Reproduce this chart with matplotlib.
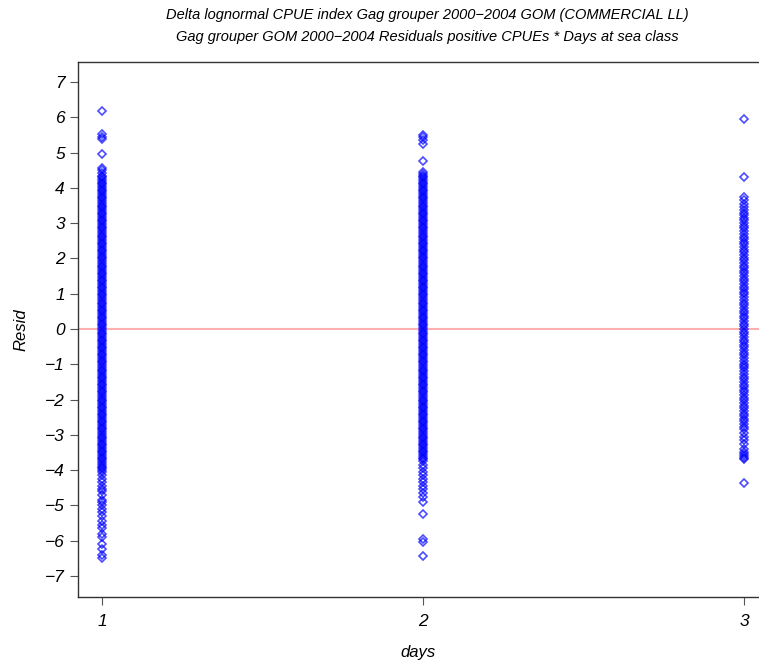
import numpy as np
import matplotlib
matplotlib.use("Agg")
import matplotlib.pyplot as plt

# ============================
# Data
# ============================
day_classes = [1, 2, 3]
tick_labels = ["1", "2", "3"]

# days = 1 : upper tail, dense core, lower tail
resid_day1 = [
    6.18, 5.52, 5.45, 5.40, 4.95, 4.57, 4.50, 4.42,
    4.35, 4.30, 4.25, 4.20, 4.15, 4.10, 4.05, 4.00, 3.95, 3.90,
    3.85, 3.80, 3.75, 3.70, 3.65, 3.60, 3.55, 3.50, 3.45, 3.40,
    3.35, 3.30, 3.25, 3.20, 3.15, 3.10, 3.05, 3.00, 2.95, 2.90,
    2.85, 2.80, 2.75, 2.70, 2.65, 2.60, 2.55, 2.50, 2.45, 2.40,
    2.35, 2.30, 2.25, 2.20, 2.15, 2.10, 2.05, 2.00, 1.95, 1.90,
    1.85, 1.80, 1.75, 1.70, 1.65, 1.60, 1.55, 1.50, 1.45, 1.40,
    1.35, 1.30, 1.25, 1.20, 1.15, 1.10, 1.05, 1.00, 0.95, 0.90,
    0.85, 0.80, 0.75, 0.70, 0.65, 0.60, 0.55, 0.50, 0.45, 0.40,
    0.35, 0.30, 0.25, 0.20, 0.15, 0.10, 0.05, 0.00, -0.05, -0.10,
    -0.15, -0.20, -0.25, -0.30, -0.35, -0.40, -0.45, -0.50, -0.55, -0.60,
    -0.65, -0.70, -0.75, -0.80, -0.85, -0.90, -0.95, -1.00, -1.05, -1.10,
    -1.15, -1.20, -1.25, -1.30, -1.35, -1.40, -1.45, -1.50, -1.55, -1.60,
    -1.65, -1.70, -1.75, -1.80, -1.85, -1.90, -1.95, -2.00, -2.05, -2.10,
    -2.15, -2.20, -2.25, -2.30, -2.35, -2.40, -2.45, -2.50, -2.55, -2.60,
    -2.65, -2.70, -2.75, -2.80, -2.85, -2.90, -2.95, -3.00, -3.05, -3.10,
    -3.15, -3.20, -3.25, -3.30, -3.35, -3.40, -3.45, -3.50, -3.55, -3.60,
    -3.65, -3.70, -3.75, -3.80, -3.85, -3.90, -3.95, -4.00, -4.05,
    -4.15, -4.25, -4.35, -4.45, -4.55, -4.60, -4.70, -4.85, -4.90, -5.00,
    -5.10, -5.20, -5.30, -5.45, -5.55, -5.65, -5.80, -5.90, -6.10, -6.25,
    -6.40, -6.50,
]

# days = 2
resid_day2 = [
    5.50, 5.45, 5.35, 5.25, 4.75, 4.45, 4.40,
    4.35, 4.30, 4.25, 4.20, 4.15, 4.10, 4.05, 4.00, 3.95, 3.90,
    3.85, 3.80, 3.75, 3.70, 3.65, 3.60, 3.55, 3.50, 3.45, 3.40,
    3.35, 3.30, 3.25, 3.20, 3.15, 3.10, 3.05, 3.00, 2.95, 2.90,
    2.85, 2.80, 2.75, 2.70, 2.65, 2.60, 2.55, 2.50, 2.45, 2.40,
    2.35, 2.30, 2.25, 2.20, 2.15, 2.10, 2.05, 2.00, 1.95, 1.90,
    1.85, 1.80, 1.75, 1.70, 1.65, 1.60, 1.55, 1.50, 1.45, 1.40,
    1.35, 1.30, 1.25, 1.20, 1.15, 1.10, 1.05, 1.00, 0.95, 0.90,
    0.85, 0.80, 0.75, 0.70, 0.65, 0.60, 0.55, 0.50, 0.45, 0.40,
    0.35, 0.30, 0.25, 0.20, 0.15, 0.10, 0.05, 0.00, -0.05, -0.10,
    -0.15, -0.20, -0.25, -0.30, -0.35, -0.40, -0.45, -0.50, -0.55, -0.60,
    -0.65, -0.70, -0.75, -0.80, -0.85, -0.90, -0.95, -1.00, -1.05, -1.10,
    -1.15, -1.20, -1.25, -1.30, -1.35, -1.40, -1.45, -1.50, -1.55, -1.60,
    -1.65, -1.70, -1.75, -1.80, -1.85, -1.90, -1.95, -2.00, -2.05, -2.10,
    -2.15, -2.20, -2.25, -2.30, -2.35, -2.40, -2.45, -2.50, -2.55, -2.60,
    -2.65, -2.70, -2.75, -2.80, -2.85, -2.90, -2.95, -3.00, -3.05, -3.10,
    -3.15, -3.20, -3.25, -3.30, -3.35, -3.40, -3.45, -3.50, -3.55, -3.60,
    -3.65, -3.70, -3.75,
    -3.85, -3.95, -4.05, -4.15, -4.25, -4.35, -4.45, -4.55, -4.65, -4.75,
    -4.90, -5.25, -5.95, -6.05, -6.45,
]

# days = 3
resid_day3 = [
    5.95, 4.30, 3.75, 3.65, 3.55,
    3.45, 3.38, 3.30, 3.22, 3.15, 3.08, 3.00, 2.92, 2.85, 2.78, 2.70,
    2.62, 2.55, 2.48, 2.40, 2.32, 2.25, 2.18, 2.10, 2.02, 1.95, 1.88,
    1.80, 1.72, 1.65, 1.58, 1.50, 1.42, 1.35, 1.28, 1.20, 1.12, 1.05,
    0.98, 0.90, 0.82, 0.75, 0.68, 0.60, 0.52, 0.45, 0.38, 0.30, 0.22,
    0.15, 0.08, 0.00, -0.08, -0.15, -0.22, -0.30, -0.38, -0.45, -0.52,
    -0.60, -0.68, -0.75, -0.82, -0.90, -0.98, -1.05, -1.12, -1.20, -1.28,
    -1.35, -1.42, -1.50, -1.58, -1.65, -1.72, -1.80, -1.88, -1.95, -2.02,
    -2.10, -2.18, -2.25, -2.32, -2.40, -2.48, -2.55, -2.62, -2.70, -2.78,
    -2.85, -2.95, -3.05, -3.15, -3.25, -3.40, -3.50, -3.55, -3.60, -3.65,
    -3.70, -4.38,
]

residuals = [resid_day1, resid_day2, resid_day3]

# ============================
# Plot
# ============================
plt.rcParams["font.family"] = ["Liberation Sans", "DejaVu Sans"]
plt.rcParams["font.style"] = "italic"

fig = plt.figure(figsize=(7.59, 6.69), dpi=100)
ax = fig.add_axes([0.1028, 0.1076, 0.8972, 0.7997])

for day, vals in zip(day_classes, residuals):
    ax.plot([day] * len(vals), vals, linestyle="none", marker="D",
            markersize=4.0, markerfacecolor="none", markeredgecolor="#0000ff",
            markeredgewidth=1.2, alpha=0.7)

ax.axhline(0, color="#ffb0b0", linewidth=1.5, zorder=0)

ax.set_xlim(0.925, 3.047)
ax.set_ylim(-7.6, 7.57)
ax.set_xticks(day_classes)
ax.set_xticklabels(tick_labels)
ax.set_yticks(range(-7, 8))
ax.tick_params(axis="both", direction="out", length=6, width=0.8,
               labelsize=12.5, color="#555555")
ax.tick_params(axis="x", pad=6)

ax.spines["right"].set_visible(False)
for side in ["left", "bottom", "top"]:
    ax.spines[side].set_color("#333333")
    ax.spines[side].set_linewidth(1.0)

ax.set_xlabel("days", fontsize=12, labelpad=12)
ax.set_ylabel("Resid", fontsize=12, labelpad=12)

fig.text(0.5625, 0.977, "Delta lognormal CPUE index Gag grouper 2000\u22122004 GOM (COMMERCIAL LL)",
         ha="center", va="center", fontsize=10.5)
fig.text(0.5625, 0.944, "Gag grouper GOM 2000\u22122004 Residuals positive CPUEs * Days at sea class",
         ha="center", va="center", fontsize=10.5)

fig.savefig("out.png", dpi=100)
